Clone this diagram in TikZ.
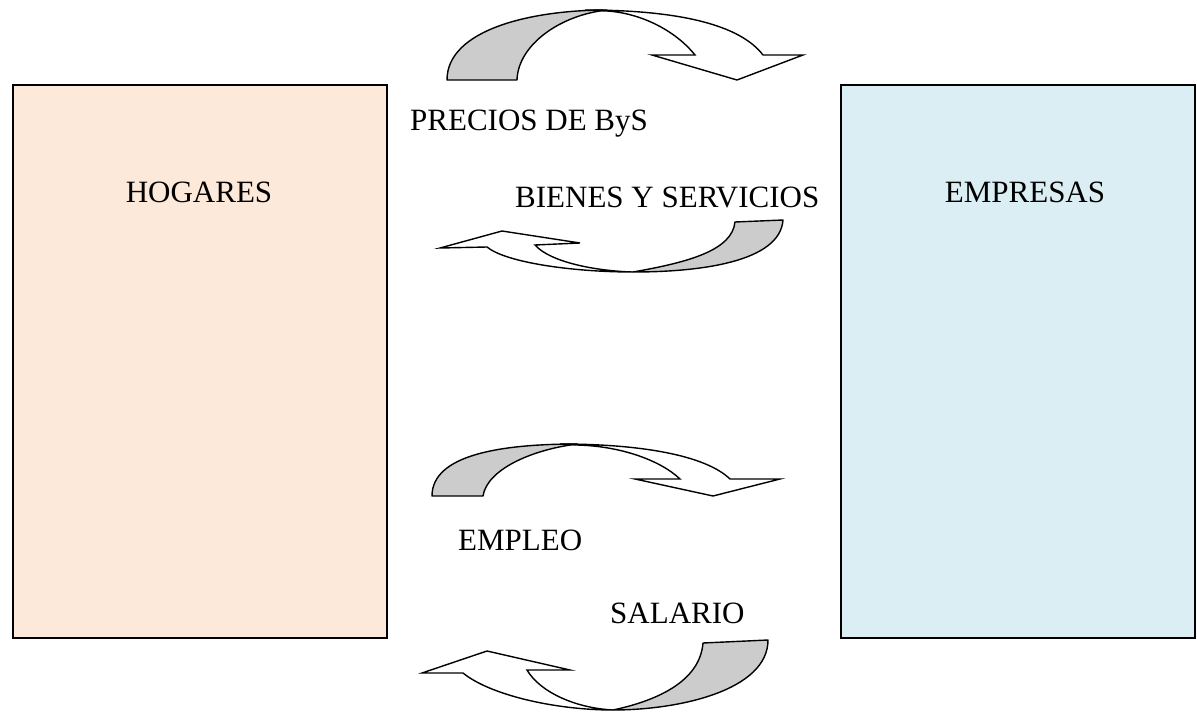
\documentclass[tikz,border=0pt]{standalone}
\usepackage{fontspec}
\setmainfont{Liberation Serif}
\definecolor{peach}{RGB}{252,233,218}
\definecolor{paleblue}{RGB}{218,238,243}
\definecolor{bandgrey}{RGB}{204,204,204}
\tikzset{
  box/.style={draw=black, line width=2pt, inner sep=0pt},
  lbl/.style={inner sep=0pt, font=\fontsize{31pt}{37pt}\selectfont},
  backband/.style={draw=black, fill=bandgrey, line width=1.4pt, line join=round},
  frontband/.style={draw=black, fill=white, line width=1.4pt, line join=miter}
}
\begin{document}
\begin{tikzpicture}[x=1pt,y=-1pt]
\useasboundingbox (0,0) rectangle (1197,712);
% boxes
\node[box, fill=peach, minimum width=374pt, minimum height=553pt] (hogbox) at (200,361.5) {};
\node[box, fill=paleblue, minimum width=354pt, minimum height=553pt] (empbox) at (1018,361.5) {};
% labels
\node[lbl, anchor=base] (hog) at (199,202) {HOGARES};
\node[lbl, anchor=base] (emp) at (1025,202) {EMPRESAS};
\node[lbl, anchor=base west] (precios) at (410,130) {PRECIOS DE ByS};
\node[lbl, anchor=base west] (bienes) at (515,207) {BIENES Y SERVICIOS};
\node[lbl, anchor=base west] (empleo) at (458,550) {EMPLEO};
\node[lbl, anchor=base west] (salario) at (610,623) {SALARIO};
% arrow 1: top, curved down to the right
\draw[frontband] (585,10) .. controls (680,10) and (740,25) .. (763,55)
  -- (803,55) -- (737,80) -- (652,55) -- (695,55)
  .. controls (675,30) and (640,13) .. (607,11) -- cycle;
\draw[backband] (447,80) .. controls (447,30) and (530,10) .. (607,10)
  .. controls (560,15) and (518,45) .. (517,80) -- cycle;
% arrow 2: below BIENES Y SERVICIOS, curved up to the left
\draw[frontband] (633,272) .. controls (570,272) and (505,262) .. (487,247)
  -- (440,248) -- (502,231) -- (580,243) -- (535,245)
  .. controls (550,262) and (595,271) .. (633,272) -- cycle;
\draw[backband] (735,222) -- (783,220) .. controls (780,262) and (700,272) .. (633,272)
  .. controls (690,262) and (732,250) .. (735,222) -- cycle;
% arrow 3: above EMPLEO, curved down to the right
\draw[frontband] (560,444) .. controls (640,444) and (705,455) .. (730,479)
  -- (780,479) -- (713,496) -- (635,479) -- (680,479)
  .. controls (660,460) and (620,446) .. (577,445) -- cycle;
\draw[backband] (432,496) .. controls (432,455) and (500,444) .. (577,444)
  .. controls (530,450) and (487,470) .. (483,496) -- cycle;
% arrow 4: below SALARIO, curved up to the left
\draw[frontband] (613,710) .. controls (555,710) and (490,695) .. (463,673)
  -- (422,673) -- (487,651) -- (570,670) -- (527,670)
  .. controls (540,692) and (575,708) .. (613,710) -- cycle;
\draw[backband] (703,643) -- (768,640) .. controls (768,690) and (680,710) .. (613,710)
  .. controls (660,700) and (700,680) .. (703,643) -- cycle;
\end{tikzpicture}
\end{document}
